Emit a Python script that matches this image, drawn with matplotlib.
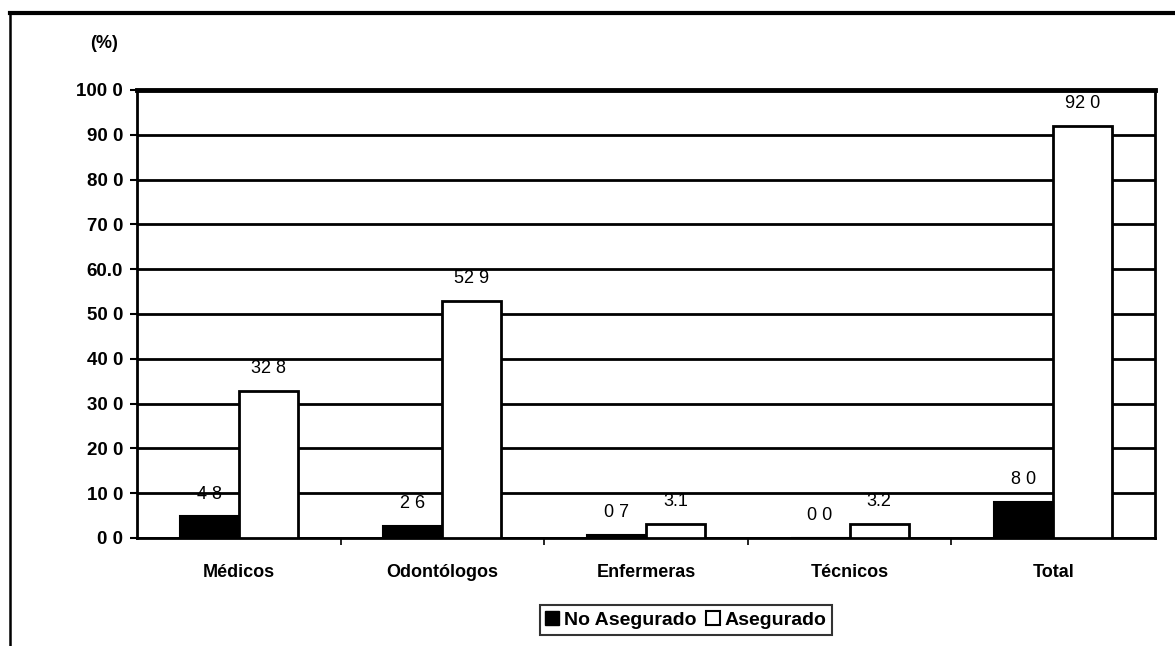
import matplotlib
matplotlib.use("Agg")
import matplotlib.pyplot as plt
from matplotlib.lines import Line2D
from matplotlib.patches import Patch
import numpy as np

categories = ["Médicos", "Odontólogos", "Enfermeras", "Técnicos", "Total"]
no_asegurado = [4.8, 2.6, 0.7, 0.0, 8.0]
asegurado = [32.8, 52.9, 3.1, 3.2, 92.0]
no_aseg_labels = ["4 8", "2 6", "0 7", "0 0", "8 0"]
aseg_labels = ["32 8", "52 9", "3.1", "3.2", "92 0"]
yticks = [0, 10, 20, 30, 40, 50, 60, 70, 80, 90, 100]
ytick_labels = ["0 0", "10 0", "20 0", "30 0", "40 0", "50 0", "60.0",
                "70 0", "80 0", "90 0", "100 0"]

plt.rcParams['font.family'] = ['Liberation Sans', 'DejaVu Sans']

W, H = 1175, 646
fig = plt.figure(figsize=(W / 100, H / 100), dpi=100)
fig.patch.set_facecolor("white")

left, right, top, bottom = 137, 1155, 90, 538
ax = fig.add_axes([left / W, 1 - bottom / H, (right - left) / W, (bottom - top) / H])

x = np.arange(len(categories))
bw = 0.29
ax.bar(x - bw / 2, no_asegurado, bw, color="black", edgecolor="black", linewidth=1.5, zorder=3)
ax.bar(x + bw / 2, asegurado, bw, color="white", edgecolor="black", linewidth=2, zorder=3)

for xi, v, lab in zip(x, no_asegurado, no_aseg_labels):
    ax.annotate(lab, (xi - bw / 2, v), xytext=(0, 10), textcoords="offset points",
                ha="center", va="bottom", fontsize=13)
for xi, v, lab in zip(x, asegurado, aseg_labels):
    ax.annotate(lab, (xi + bw / 2, v), xytext=(0, 10), textcoords="offset points",
                ha="center", va="bottom", fontsize=13)

ax.set_xlim(-0.5, len(categories) - 0.5)
ax.set_ylim(0, 100)
ax.set_yticks(yticks)
ax.set_yticklabels(ytick_labels, fontsize=13.5, fontweight="bold")
ax.set_xticks(x)
ax.set_xticklabels(categories, fontsize=13, fontweight="bold")
ax.tick_params(axis="x", which="major", length=0, pad=19)
ax.set_xticks(np.arange(0.5, len(categories) - 0.5, 1), minor=True)
ax.tick_params(axis="x", which="minor", length=5, width=1.2, direction="out")
ax.tick_params(axis="y", length=5, width=1.5, direction="out", pad=5)

ax.grid(axis="y", color="black", linewidth=2, zorder=0)
ax.set_axisbelow(True)
for s in ["left", "bottom", "right"]:
    ax.spines[s].set_linewidth(2)
ax.spines["top"].set_linewidth(3.5)

fig.text(104 / W, 1 - 44 / H, "(%)", ha="center", va="center", fontsize=13, fontweight="bold")

# outer frame lines
fig.add_artist(Line2D([10 / W, 1], [1 - 13 / H, 1 - 13 / H], transform=fig.transFigure,
                      color="black", linewidth=3))
fig.add_artist(Line2D([10 / W, 10 / W], [1 - 13 / H, 0], transform=fig.transFigure,
                      color="black", linewidth=1.8))

handles = [Patch(facecolor="black", edgecolor="black"),
           Patch(facecolor="white", edgecolor="black", linewidth=1.5)]
leg = fig.legend(handles, ["No Asegurado", "Asegurado"], loc="center",
                 bbox_to_anchor=(686 / W, 1 - 620 / H), ncol=2, fontsize=14,
                 prop={"size": 14, "weight": "bold"},
                 handlelength=0.7, handleheight=0.7, handletextpad=0.25,
                 columnspacing=0.5, borderpad=0.3, fancybox=False, frameon=True,
                 borderaxespad=0)
leg.get_frame().set_edgecolor("black")
leg.get_frame().set_linewidth(1.5)

fig.savefig("out.png", dpi=100)
